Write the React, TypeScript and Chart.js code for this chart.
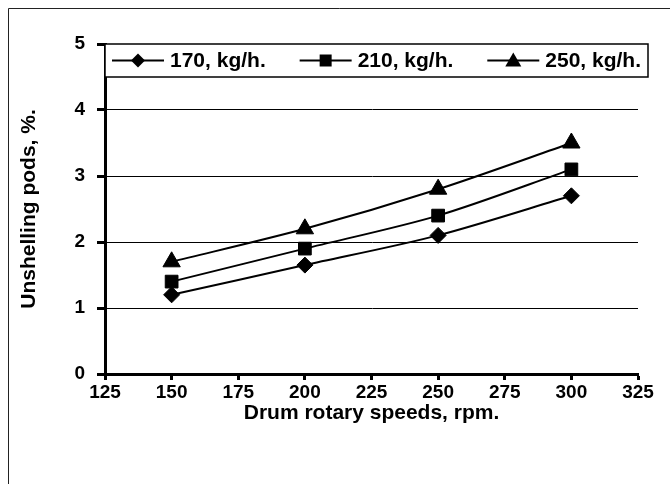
import React, { useEffect, useRef } from 'react';
import { Chart, registerables } from 'chart.js';

Chart.register(...registerables);

// ---- data ----
const speeds = [150, 200, 250, 300];
const feed170 = [1.2, 1.65, 2.1, 2.7];
const feed210 = [1.4, 1.9, 2.4, 3.1];
const feed250 = [1.7, 2.2, 2.8, 3.5];
const seriesLabels = ['170, kg/h.', '210, kg/h.', '250, kg/h.'];
const seriesMarkers = ['rectRot', 'rect', 'triangle'];
const xMin = 125;
const xMax = 325;
const xStep = 25;
const yMin = 0;
const yMax = 5;
const yStep = 1;
const xTitle = 'Drum rotary speeds, rpm.';
const yTitle = 'Unshelling pods, %.';

const FONT = '"Liberation Sans", Arial, Helvetica, sans-serif';

function drawMarker(ctx: CanvasRenderingContext2D, style: string, x: number, y: number) {
  ctx.beginPath();
  if (style === 'rectRot') {
    ctx.moveTo(x, y - 7);
    ctx.lineTo(x + 7, y);
    ctx.lineTo(x, y + 7);
    ctx.lineTo(x - 7, y);
  } else if (style === 'rect') {
    ctx.rect(x - 6, y - 6, 12, 12);
  } else {
    ctx.moveTo(x, y - 8);
    ctx.lineTo(x + 8, y + 6);
    ctx.lineTo(x - 8, y + 6);
  }
  ctx.closePath();
  ctx.fill();
}

const boxLegend = {
  id: 'boxLegend',
  afterDraw(chart: any) {
    const ctx: CanvasRenderingContext2D = chart.ctx;
    ctx.save();
    // outer frame (top and left edges)
    ctx.strokeStyle = '#222';
    ctx.lineWidth = 1;
    ctx.beginPath();
    ctx.moveTo(8.5, 484);
    ctx.lineTo(8.5, 8.5);
    ctx.lineTo(670, 8.5);
    ctx.stroke();

    const area = chart.chartArea;
    const x0 = area.left;
    const y0 = area.top;
    const w = 543;
    const h = 33;
    ctx.fillStyle = '#fff';
    ctx.fillRect(x0, y0, w, h);
    ctx.strokeStyle = '#000';
    ctx.lineWidth = 1.5;
    ctx.strokeRect(x0, y0, w, h);

    ctx.font = `bold 21px ${FONT}`;
    const lineLen = 52;
    const gapText = 6;
    const widths = chart.data.datasets.map((ds: any) => ctx.measureText(ds.label).width);
    const total = widths.reduce((a: number, b: number) => a + b + lineLen + gapText, 0);
    const gap = (w - 14 - total) / (widths.length - 1);
    const cy = y0 + h / 2;
    let x = x0 + 7;
    chart.data.datasets.forEach((ds: any, i: number) => {
      ctx.strokeStyle = '#000';
      ctx.fillStyle = '#000';
      ctx.lineWidth = 2;
      ctx.beginPath();
      ctx.moveTo(x, cy);
      ctx.lineTo(x + lineLen, cy);
      ctx.stroke();
      drawMarker(ctx, ds.pointStyle, x + lineLen / 2, cy);
      ctx.textAlign = 'left';
      ctx.textBaseline = 'middle';
      ctx.fillText(ds.label, x + lineLen + gapText, cy + 1);
      x += lineLen + gapText + widths[i] + gap;
    });
    ctx.restore();
  },
};

export default function App() {
  const ref = useRef<HTMLCanvasElement | null>(null);

  useEffect(() => {
    document.body.style.margin = '0';
    const canvas = ref.current;
    if (!canvas) return;
    const series = [feed170, feed210, feed250];
    const radii: Record<string, number> = { rectRot: 8, rect: 9, triangle: 10 };
    const chart = new Chart(canvas, {
      type: 'line',
      data: {
        datasets: series.map((vals, i) => ({
          label: seriesLabels[i],
          data: speeds.map((s, j) => ({ x: s, y: vals[j] })),
          borderColor: '#000',
          backgroundColor: '#000',
          borderWidth: 2,
          pointStyle: seriesMarkers[i] as any,
          pointRadius: radii[seriesMarkers[i]],
          pointBackgroundColor: '#000',
          pointBorderColor: '#000',
          pointBorderWidth: 1,
          tension: 0.3,
          fill: false,
        })),
      },
      options: {
        responsive: false,
        animation: false,
        events: [],
        layout: { padding: { top: 44, right: 32, left: 0, bottom: 0 } },
        plugins: {
          legend: { display: false },
          tooltip: { enabled: false },
          title: { display: false },
        },
        scales: {
          x: {
            type: 'linear',
            min: xMin,
            max: xMax,
            ticks: {
              stepSize: xStep,
              color: '#000',
              font: { family: FONT, size: 19, weight: 'bold' },
              padding: 1,
              maxRotation: 0,
            },
            grid: {
              drawOnChartArea: false,
              drawTicks: true,
              tickLength: 6,
              tickWidth: 3,
              tickColor: '#000',
              color: '#000',
            },
            border: { display: true, color: '#000', width: 3 },
            title: {
              display: true,
              text: xTitle,
              color: '#000',
              font: { family: FONT, size: 21, weight: 'bold' },
              padding: { top: 0, bottom: 58 },
            },
            afterFit: (scale: any) => {
              scale.height = 110;
            },
          },
          y: {
            type: 'linear',
            min: yMin,
            max: yMax,
            ticks: {
              stepSize: yStep,
              color: '#000',
              font: { family: FONT, size: 19, weight: 'bold' },
              padding: 12,
            },
            grid: {
              drawOnChartArea: true,
              drawTicks: true,
              tickLength: 8,
              tickWidth: 3,
              tickColor: '#000',
              color: '#000',
              lineWidth: 1,
            },
            border: { display: true, color: '#000', width: 3 },
            title: {
              display: true,
              text: yTitle,
              color: '#000',
              font: { family: FONT, size: 21, weight: 'bold' },
              padding: { top: 17, bottom: 0 },
            },
            afterFit: (scale: any) => {
              scale.width = 105;
            },
          },
        },
      },
      plugins: [boxLegend],
    });
    return () => chart.destroy();
  }, []);

  return (
    <div style={{ width: 670, height: 484, background: '#fff' }}>
      <canvas ref={ref} width={670} height={484} style={{ display: 'block' }} />
    </div>
  );
}
